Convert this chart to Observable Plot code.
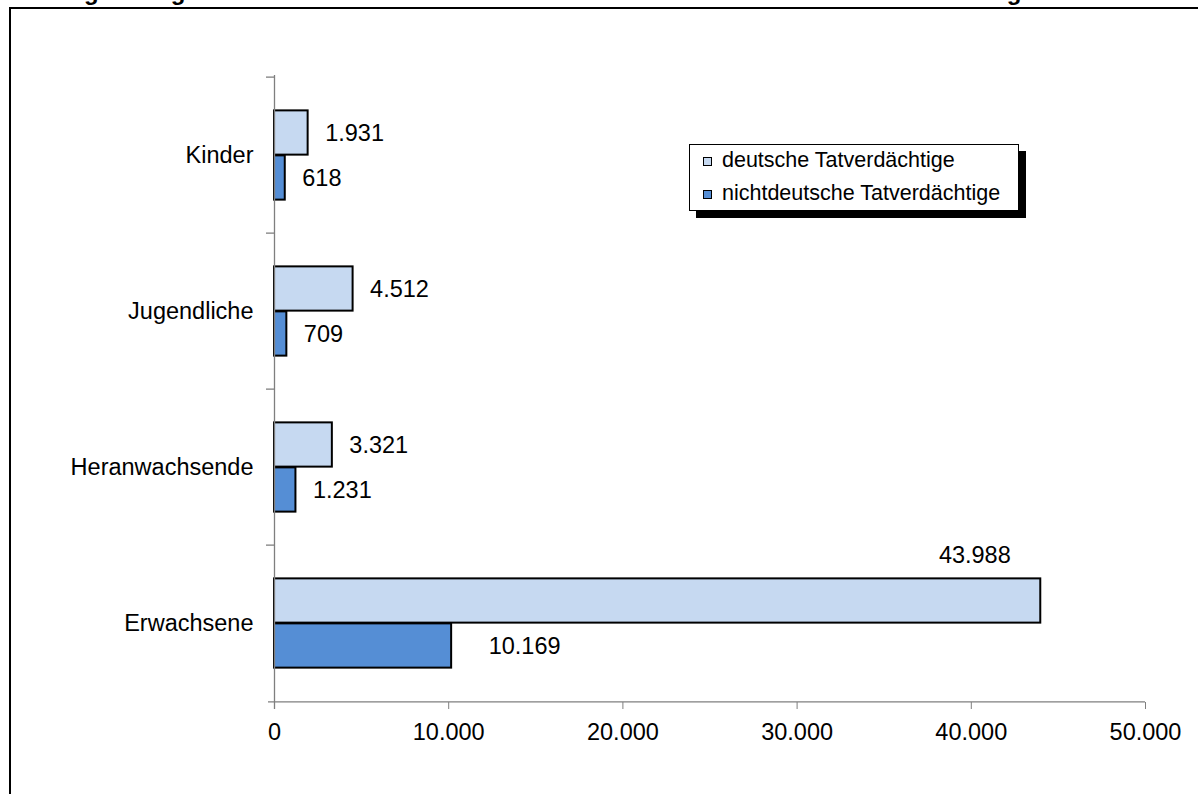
<!DOCTYPE html>
<html>
<head>
<meta charset="utf-8">
<script src="https://cdn.jsdelivr.net/npm/d3@7"></script>
<script src="https://cdn.jsdelivr.net/npm/@observablehq/plot@0.6"></script>
<style>
  html, body { margin: 0; padding: 0; background: white; }
  body { width: 1198px; height: 794px; position: relative; overflow: hidden; font-family: "Liberation Sans", Arial, sans-serif; }
  #chart { position: absolute; left: 0; top: 0; }
  #frame { position: absolute; left: 9px; top: 7px; width: 1300px; height: 900px; border: 2px solid #000; pointer-events: none; }
  #title { position: absolute; left: -20px; top: -20px; font-size: 24px; line-height: 24px; font-weight: bold; white-space: nowrap; color: #000; }
  #legend { position: absolute; left: 689px; top: 144px; width: 328px; height: 65px; border: 1px solid #000; background: #fff; box-shadow: 7px 7px 0 #000; }
  .item { position: absolute; left: 13px; font-size: 21.5px; line-height: 24px; white-space: nowrap; }
  .sw { display: inline-block; width: 7px; height: 7px; border: 1.5px solid #000; margin-right: 10px; vertical-align: 1px; }
</style>
</head>
<body>
<div id="chart"></div>
<div id="title"></div>
<div id="frame"></div>
<div id="legend"></div>
<script>
const titleText = "Abbildung 7: Vergleich der Altersstruktur von deutschen und nichtdeutschen Tatverdächtigen";
const categories = ["Kinder", "Jugendliche", "Heranwachsende", "Erwachsene"];
const seriesNames = ["deutsche Tatverdächtige", "nichtdeutsche Tatverdächtige"];
const deutsche = [1931, 4512, 3321, 43988];
const nichtdeutsche = [618, 709, 1231, 10169];
const xTicks = [0, 10000, 20000, 30000, 40000, 50000];
const colors = ["#C6D9F1", "#558ED5"];

const de = d3.formatLocale({decimal: ",", thousands: ".", grouping: [3], currency: ["", " €"]});
const fmt = de.format(",d");

const rowsD = categories.map((c, i) => ({category: c, series: seriesNames[0], value: deutsche[i]}));
const rowsN = categories.map((c, i) => ({category: c, series: seriesNames[1], value: nichtdeutsche[i]}));
const last = categories[categories.length - 1];

document.getElementById("title").textContent = titleText;

const W = 1198, H = 794, mL = 274, mR = 53, mT = 75, mB = 92;
const step = (H - mT - mB) / categories.length;
const half = step / 2;
const FS = 23.5;

const plot = Plot.plot({
  width: W, height: H,
  marginLeft: mL, marginRight: mR, marginTop: mT, marginBottom: mB,
  style: {fontFamily: "'Liberation Sans', Arial, sans-serif", background: "transparent"},
  x: {domain: [0, 50000]},
  y: {domain: categories, padding: 0},
  marks: [
    Plot.barX(rowsD, {x: "value", y: "category", fill: colors[0], stroke: "#000", strokeWidth: 2, insetTop: half - 45, insetBottom: half}),
    Plot.barX(rowsN, {x: "value", y: "category", fill: colors[1], stroke: "#000", strokeWidth: 2, insetTop: half, insetBottom: half - 45}),
    Plot.ruleX([0], {stroke: "#7f7f7f", strokeWidth: 1.3, insetBottom: -7}),
    Plot.ruleY(categories, {y: d => d, dy: -half, x1: 0, x2: 0, insetLeft: -8, stroke: "#7f7f7f", strokeWidth: 1.3}),
    Plot.ruleY([last], {y: d => d, dy: half, x1: 0, x2: 50000, insetLeft: -6, stroke: "#7f7f7f", strokeWidth: 1.3}),
    Plot.axisX({ticks: xTicks, tickFormat: fmt, tickSize: 7, tickPadding: 14, fontSize: FS, stroke: "#7f7f7f", fill: "#000", label: null}),
    Plot.axisY({tickSize: 0, tickPadding: 21, fontSize: FS, fill: "#000", label: null}),
    Plot.text(rowsD.filter(d => d.category !== last), {x: "value", y: "category", text: d => fmt(d.value), dx: 17, dy: -22, textAnchor: "start", fontSize: FS, fill: "#000"}),
    Plot.text(rowsN.filter(d => d.category !== last), {x: "value", y: "category", text: d => fmt(d.value), dx: 17, dy: 23, textAnchor: "start", fontSize: FS, fill: "#000"}),
    Plot.text(rowsD.filter(d => d.category === last), {x: "value", y: "category", text: d => fmt(d.value), dx: -30, dy: -68, textAnchor: "end", fontSize: FS, fill: "#000"}),
    Plot.text(rowsN.filter(d => d.category === last), {x: "value", y: "category", text: d => fmt(d.value), dx: 37, dy: 23, textAnchor: "start", fontSize: FS, fill: "#000"})
  ]
});
document.getElementById("chart").appendChild(plot);

const legend = document.getElementById("legend");
seriesNames.forEach((name, i) => {
  const item = document.createElement("div");
  item.className = "item";
  item.style.top = (3 + i * 33) + "px";
  const sw = document.createElement("span");
  sw.className = "sw";
  sw.style.background = colors[i];
  item.appendChild(sw);
  item.appendChild(document.createTextNode(name));
  legend.appendChild(item);
});
</script>
</body>
</html>
